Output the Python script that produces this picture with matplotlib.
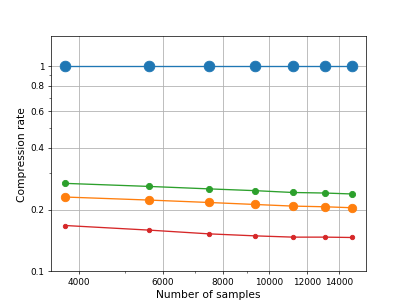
import matplotlib
matplotlib.use("Agg")
import matplotlib.pyplot as plt
from matplotlib.ticker import NullFormatter, FuncFormatter

samples = [3745, 5610, 7480, 9355, 11220, 13110, 14920]
series_blue = [1.0, 1.0, 1.0, 1.0, 1.0, 1.0, 1.0]
series_green = [0.268, 0.259, 0.252, 0.247, 0.242, 0.2405, 0.238]
series_orange = [0.230, 0.2223, 0.2164, 0.2116, 0.2078, 0.2062, 0.2040]
series_red = [0.1672, 0.1588, 0.1523, 0.1489, 0.1468, 0.1468, 0.1462]
xticks = [4000, 6000, 8000, 10000, 12000, 14000]
yticks = [0.1, 0.2, 0.4, 0.6, 0.8, 1]
ytick_labels = ["0.1", "0.2", "0.4", "0.6", "0.8", "1"]

fig, ax = plt.subplots(figsize=(6.4, 4.8), dpi=63.6)
ax.plot(samples, series_blue, marker="o", markersize=12, color="#1f77b4")
ax.plot(samples, series_orange, marker="o", markersize=9.5, color="#ff7f0e")
ax.plot(samples, series_green, marker="o", markersize=7, color="#2ca02c")
ax.plot(samples, series_red, marker="o", markersize=5, color="#d62728")

ax.set_xscale("log")
ax.set_yscale("log")
ax.set_ylim(0.1, 1.39)
ax.set_xticks(xticks)
ax.xaxis.set_major_formatter(FuncFormatter(lambda v, p: f"{int(round(v))}"))
ax.xaxis.set_minor_formatter(NullFormatter())
ax.set_yticks(yticks)
ax.set_yticklabels(ytick_labels)
ax.yaxis.set_minor_formatter(NullFormatter())
ax.grid(True, which="major", color="#b0b0b0", linewidth=0.9)
ax.set_xlabel("Number of samples", fontsize=12)
ax.set_ylabel("Compression rate", fontsize=12)
fig.savefig("out.png")
